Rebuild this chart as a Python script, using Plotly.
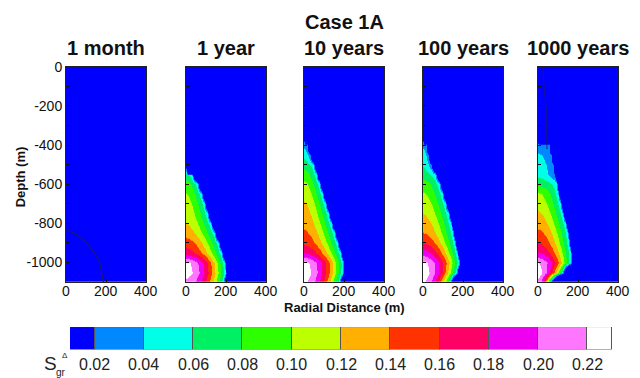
import numpy as np
import plotly.graph_objects as go

W, H = 640, 378

# ---------------- data ----------------
PANEL_TITLES = ["1 month", "1 year", "10 years", "100 years", "1000 years"]
MAIN_TITLE = "Case 1A"

# depth rows (m) at which plume centre value and plume edge radius were read
DEPTHS = [-1100, -1050, -1000, -950, -900, -850, -800, -750,
          -700, -650, -600, -550, -500, -450, -400, -350]

# centre-line (r = 0) value of S_gr^Δ at each depth
CENTER_1M = [0.005, 0.005, 0.004, 0.003, 0.002, 0.001, 0, 0, 0, 0, 0, 0, 0, 0, 0, 0]
CENTER_1Y = [0.215, 0.228, 0.224, 0.170, 0.150, 0.130, 0.120, 0.113,
             0.108, 0.100, 0.090, 0.065, 0.0, 0.0, 0.0, 0.0]
CENTER_10Y = [0.222, 0.230, 0.225, 0.180, 0.155, 0.143, 0.135, 0.128,
              0.122, 0.113, 0.104, 0.090, 0.070, 0.055, 0.030, 0.0]
CENTER_100Y = [0.222, 0.230, 0.225, 0.190, 0.160, 0.140, 0.130, 0.120,
               0.112, 0.102, 0.090, 0.070, 0.058, 0.050, 0.035, 0.0]
CENTER_1000Y = [0.215, 0.228, 0.220, 0.182, 0.160, 0.145, 0.133, 0.123,
                0.113, 0.103, 0.075, 0.055, 0.050, 0.042, 0.025, 0.0]

# radial distance (m) of the visible plume edge at each depth
EDGE_1M = [200, 190, 170, 130, 90, 40, 1, 1, 1, 1, 1, 1, 1, 1, 1, 1]
EDGE_1Y = [185, 195, 190, 175, 160, 140, 123, 105, 90, 75, 55, 28, 1, 1, 1, 1]
EDGE_10Y = [175, 190, 193, 180, 165, 150, 135, 120, 105, 90, 75, 60, 45, 30, 15, 1]
EDGE_100Y = [135, 165, 178, 168, 157, 147, 138, 125, 110, 95, 80, 60, 42, 27, 15, 1]
EDGE_1000Y = [60, 120, 160, 160, 152, 146, 135, 122, 110, 98, 90, 83, 77, 68, 55, 1]

CENTERS = [CENTER_1M, CENTER_1Y, CENTER_10Y, CENTER_100Y, CENTER_1000Y]
EDGES = [EDGE_1M, EDGE_1Y, EDGE_10Y, EDGE_100Y, EDGE_1000Y]

# faint contour lines visible in the "1 month" and "1000 years" panels
LINE_1M_R = [0, 67, 117, 162, 178, 187]
LINE_1M_D = [-833, -867, -917, -983, -1050, -1100]
LINE_1000Y_R = [25, 30, 40, 42, 45]
LINE_1000Y_D = [0, -100, -200, -300, -420]

# colour bar
BIN_EDGES = [0.01, 0.02, 0.04, 0.06, 0.08, 0.10, 0.12, 0.14, 0.16, 0.18, 0.20, 0.22, 0.23]
BIN_COLORS = ["#0000FF", "#0088FF", "#00FFE6", "#00F064", "#2EFF00", "#BBFF00",
              "#FFB000", "#FF3300", "#FF0066", "#F000F0", "#FF77FF", "#FFFFFF"]
CBAR_TICKS = [0.02, 0.04, 0.06, 0.08, 0.10, 0.12, 0.14, 0.16, 0.18, 0.20, 0.22]
CBAR_TICKTEXT = ["0.02", "0.04", "0.06", "0.08", "0.10", "0.12",
                 "0.14", "0.16", "0.18", "0.20", "0.22"]

X_TICKS = [0, 200, 400]
Y_TICKS = [0, -100, -200, -300, -400, -500, -600, -700, -800, -900, -1000, -1100]

# ---------------- layout geometry (pixels) ----------------
PANEL_LEFT = [66, 186, 304, 423, 538]
PANEL_W = 80
PANEL_TOP, PANEL_BOT = 60, 280
PROFILE_EXP = 1.7
FONT = "Liberation Sans, Arial, sans-serif"

def px(x):
    return x / W

def py(y):
    return 1 - y / H

# stepped colour scale over 0 .. 0.24 (12 bins of 0.02)
ZMIN, ZMAX = 0.0, 0.24
nb = len(BIN_COLORS)
cscale = []
for k, c in enumerate(BIN_COLORS):
    cscale.append([k / nb, c])
    cscale.append([(k + 1) / nb, c])

r_grid = np.arange(0, 401, 5, dtype=float)
d_rows = list(DEPTHS) + list(range(DEPTHS[-1] + 50, 1, 50))


def radial_row(c, rr):
    # centre value c falling to the rim value at the edge radius rr,
    # then dropping steeply (below the lowest band) outside the plume
    if c <= 0.02:
        return c - 0.02 * (r_grid / rr) ** PROFILE_EXP
    rim = 0.05 if c > 0.06 else 0.02
    inside = c - (c - rim) * (r_grid / rr) ** PROFILE_EXP
    outside = rim - 0.006 * (r_grid - rr)
    return np.where(r_grid <= rr, inside, outside)


fig = go.Figure()

for i in range(5):
    C = list(CENTERS[i]) + [0.0] * (len(d_rows) - len(DEPTHS))
    R = list(EDGES[i]) + [1.0] * (len(d_rows) - len(DEPTHS))
    z = np.array([radial_row(c, rr) for c, rr in zip(C, R)])
    ax = "" if i == 0 else str(i + 1)
    fig.add_trace(go.Heatmap(
        x=r_grid, y=d_rows, z=z, zmin=ZMIN, zmax=ZMAX,
        colorscale=cscale, showscale=False, zsmooth="best",
        xaxis="x" + ax, yaxis="y" + ax, hoverinfo="skip"))

fig.add_trace(go.Scatter(x=LINE_1M_R, y=LINE_1M_D, mode="lines",
                         line=dict(color="rgba(25,25,110,0.9)", width=1.2, shape="spline"),
                         xaxis="x", yaxis="y", showlegend=False, hoverinfo="skip"))
fig.add_trace(go.Scatter(x=LINE_1000Y_R, y=LINE_1000Y_D, mode="lines",
                         line=dict(color="rgba(25,25,110,0.8)", width=1.1, shape="spline"),
                         xaxis="x5", yaxis="y5", showlegend=False, hoverinfo="skip"))

# colour bar drawn as bars on its own axes
centers = [(a + b) / 2 for a, b in zip(BIN_EDGES[:-1], BIN_EDGES[1:])]
widths = [b - a for a, b in zip(BIN_EDGES[:-1], BIN_EDGES[1:])]
fig.add_trace(go.Bar(x=centers, y=[1] * nb, width=widths, base=0,
                     marker=dict(color=BIN_COLORS, line=dict(color="#555555", width=1)),
                     xaxis="x6", yaxis="y6", showlegend=False, hoverinfo="skip",
                     cliponaxis=False))

layout = dict(
    width=W, height=H, margin=dict(l=0, r=0, t=0, b=0),
    paper_bgcolor="white", plot_bgcolor="white", showlegend=False,
    font=dict(family=FONT, color="#111111"), bargap=0,
)
ann = []
for i in range(5):
    ax = "" if i == 0 else str(i + 1)
    left = PANEL_LEFT[i]
    layout["xaxis" + ax] = dict(
        domain=[px(left), px(left + PANEL_W)], range=[0, 400], anchor="y" + ax,
        tickvals=X_TICKS, showticklabels=False,
        ticks="inside", ticklen=3, tickcolor="#111",
        showline=True, mirror=True, linecolor="#222", linewidth=1,
        showgrid=False, zeroline=False)
    layout["yaxis" + ax] = dict(
        domain=[py(PANEL_BOT), py(PANEL_TOP)], range=[-1100, 0], anchor="x" + ax,
        tickvals=Y_TICKS,
        ticktext=[str(v) if v % 200 == 0 and v > -1100 else "" for v in Y_TICKS],
        showticklabels=(i == 0),
        ticks="inside", ticklen=3, tickcolor="#111",
        showline=True, mirror=True, linecolor="#222", linewidth=1,
        showgrid=False, zeroline=False, tickfont=dict(size=14, color="#111"))
    # x tick labels placed just under each panel
    for v in X_TICKS:
        ann.append(dict(text=str(v), x=v, xref="x" + ax, y=py(289), yref="paper",
                        showarrow=False, font=dict(size=14, color="#111"),
                        xanchor="center", yanchor="middle"))

layout["xaxis6"] = dict(domain=[px(70), px(612)], range=[BIN_EDGES[0], BIN_EDGES[-1]],
                        anchor="y6", visible=False, fixedrange=True)
layout["yaxis6"] = dict(domain=[py(349), py(326)], range=[0, 1], anchor="x6",
                        visible=False, fixedrange=True)

for i, t in enumerate(PANEL_TITLES):
    ann.append(dict(text="<b>%s</b>" % t, x=px(PANEL_LEFT[i] + PANEL_W / 2), y=py(41),
                    xref="paper", yref="paper", showarrow=False,
                    font=dict(size=20, color="#111"), xanchor="center", yanchor="middle"))
ann.append(dict(text="<b>%s</b>" % MAIN_TITLE, x=px(344), y=py(14), xref="paper", yref="paper",
                showarrow=False, font=dict(size=20, color="#111"),
                xanchor="center", yanchor="middle"))
ann.append(dict(text="<b>Depth (m)</b>", x=px(20), y=py(173), xref="paper", yref="paper",
                showarrow=False, textangle=-90, font=dict(size=13, color="#111"),
                xanchor="center", yanchor="middle"))
ann.append(dict(text="<b>Radial Distance (m)</b>", x=px(344), y=py(306), xref="paper",
                yref="paper", showarrow=False, font=dict(size=13, color="#111"),
                xanchor="center", yanchor="middle"))
for v, t in zip(CBAR_TICKS, CBAR_TICKTEXT):
    ann.append(dict(text=t, x=v, xref="x6", y=py(364), yref="paper", showarrow=False,
                    font=dict(size=16, color="#222"), xanchor="center", yanchor="middle"))
ann.append(dict(text="S", x=px(50), y=py(363), xref="paper", yref="paper", showarrow=False,
                font=dict(size=19, color="#222"), xanchor="center", yanchor="middle"))
ann.append(dict(text="gr", x=px(61), y=py(372), xref="paper", yref="paper", showarrow=False,
                font=dict(size=10, color="#222"), xanchor="center", yanchor="middle"))
ann.append(dict(text="Δ", x=px(65), y=py(355), xref="paper", yref="paper", showarrow=False,
                font=dict(size=8, color="#222"), xanchor="center", yanchor="middle"))
layout["annotations"] = ann

fig.update_layout(**layout)
fig.write_html("out.html")
